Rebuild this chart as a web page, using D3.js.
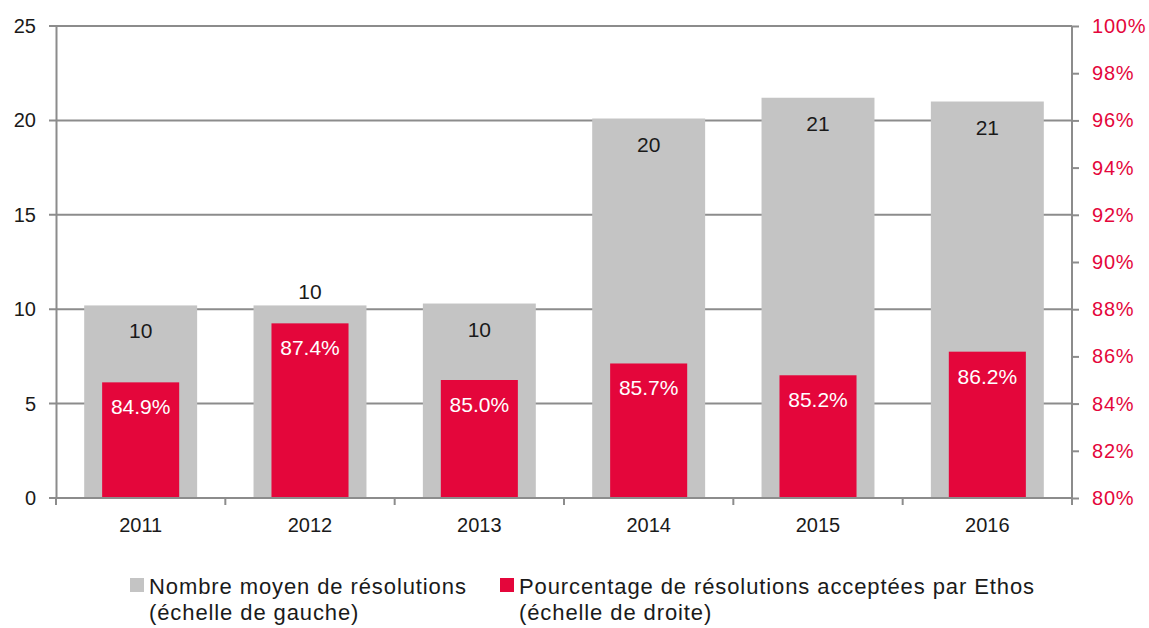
<!DOCTYPE html>
<html>
<head>
<meta charset="utf-8">
<script src="https://cdn.jsdelivr.net/npm/d3@7"></script>
<style>
  body { margin: 0; background: #fff; }
  svg text { font-family: "Liberation Sans", Arial, sans-serif; }
</style>
</head>
<body>
<div id="chart-area"></div>
<script>
// data
var years = ['2011', '2012', '2013', '2014', '2015', '2016'];
var avgResolutions = [10.2, 10.2, 10.3, 20.1, 21.2, 21.0];
var pctAccepted = [84.9, 87.4, 85.0, 85.7, 85.2, 86.2];
var leftTicks = [0, 5, 10, 15, 20, 25];
var rightTicks = [80, 82, 84, 86, 88, 90, 92, 94, 96, 98, 100];
var legendLabels = [
    ['Nombre moyen de résolutions', '(échelle de gauche)'],
    ['Pourcentage de résolutions acceptées par Ethos', '(échelle de droite)']
];

var margin = { left: 56, right: 77, top: 26, bottom: 130 };
var width = 1149 - margin.left - margin.right;
var height = 628 - margin.top - margin.bottom;

var grey = '#c4c4c4';
var red = '#e4063b';
var axisGrey = '#8c8c8c';
var textCol = '#1a1a1a';

var data = years.map((y, i) => ({ year: y, avg: avgResolutions[i], pct: pctAccepted[i] }));

var svg = d3.select('#chart-area')
    .append('svg')
    .attr('width', 1149)
    .attr('height', 628);

var g = svg.append('g')
    .attr('transform', 'translate(' + margin.left + ', ' + margin.top + ')');

var x = d3.scaleBand()
    .domain(years)
    .range([0, width]);

var yLeft = d3.scaleLinear().domain([0, 25]).range([height, 0]);
var yRight = d3.scaleLinear().domain([80, 100]).range([height, 0]);

// gridlines
g.selectAll('.grid')
    .data(leftTicks)
    .enter().append('line')
    .attr('x1', -7)
    .attr('x2', width)
    .attr('y1', d => yLeft(d))
    .attr('y2', d => yLeft(d))
    .attr('stroke', axisGrey)
    .attr('stroke-width', 2);

// grey bars
var greyW = x.bandwidth() * 0.667;
g.selectAll('.bar-avg')
    .data(data)
    .enter().append('rect')
    .attr('x', d => x(d.year) + (x.bandwidth() - greyW) / 2)
    .attr('y', d => yLeft(d.avg))
    .attr('width', greyW)
    .attr('height', d => height - yLeft(d.avg))
    .attr('fill', grey);

// red bars
var redW = x.bandwidth() * 0.455;
g.selectAll('.bar-pct')
    .data(data)
    .enter().append('rect')
    .attr('x', d => x(d.year) + (x.bandwidth() - redW) / 2)
    .attr('y', d => yRight(d.pct))
    .attr('width', redW)
    .attr('height', d => height - yRight(d.pct))
    .attr('fill', red);

// grey labels: inside the bar, or above it if the red bar is in the way
g.selectAll('.lbl-avg')
    .data(data)
    .enter().append('text')
    .attr('x', d => x(d.year) + x.bandwidth() / 2)
    .attr('y', d => {
        var top = yLeft(d.avg);
        return (yRight(d.pct) - top < 35) ? top - 6 : top + 33;
    })
    .attr('text-anchor', 'middle')
    .attr('font-size', '21px')
    .attr('fill', textCol)
    .text(d => Math.round(d.avg));

g.selectAll('.lbl-pct')
    .data(data)
    .enter().append('text')
    .attr('x', d => x(d.year) + x.bandwidth() / 2)
    .attr('y', d => yRight(d.pct) + 32)
    .attr('text-anchor', 'middle')
    .attr('font-size', '21px')
    .attr('fill', '#fff')
    .text(d => d.pct.toFixed(1) + '%');

// left axis
var leftAxis = g.append('g')
    .call(d3.axisLeft(yLeft).tickValues(leftTicks).tickSize(0).tickPadding(20));
leftAxis.select('.domain').attr('stroke', axisGrey).attr('stroke-width', 2);
leftAxis.selectAll('text').attr('font-size', '20px').attr('fill', textCol);

// right axis
var rightAxis = g.append('g')
    .attr('transform', `translate(${width}, 0)`)
    .call(d3.axisRight(yRight).tickValues(rightTicks).tickSize(7).tickPadding(13)
        .tickFormat(d => d + '%'));
rightAxis.select('.domain').attr('stroke', axisGrey).attr('stroke-width', 2).attr('d', `M0,0V${height}`);
rightAxis.selectAll('line').attr('stroke', axisGrey).attr('stroke-width', 2);
rightAxis.selectAll('text').attr('font-size', '20px').attr('letter-spacing', '0.8px').attr('fill', red);

// bottom axis: ticks between categories
var bottom = g.append('g').attr('transform', `translate(0, ${height})`);
bottom.append('line')
    .attr('x1', 0).attr('x2', width)
    .attr('stroke', axisGrey).attr('stroke-width', 2);
var bounds = years.map(y => x(y)).concat([width]);
bottom.selectAll('.xtick')
    .data(bounds)
    .enter().append('line')
    .attr('x1', d => d).attr('x2', d => d)
    .attr('y1', 0).attr('y2', 7)
    .attr('stroke', axisGrey).attr('stroke-width', 2);
bottom.selectAll('.xlabel')
    .data(years)
    .enter().append('text')
    .attr('x', d => x(d) + x.bandwidth() / 2)
    .attr('y', 34)
    .attr('text-anchor', 'middle')
    .attr('font-size', '20px')
    .attr('fill', textCol)
    .text(d => d);

// legend
var legendX = [130, 500];
var legendColors = [grey, red];
var legend = svg.selectAll('.legend')
    .data(legendLabels)
    .enter().append('g')
    .attr('transform', (d, i) => `translate(${legendX[i]}, 578)`);
legend.append('rect')
    .attr('x', 0).attr('y', 0)
    .attr('width', 14).attr('height', 14)
    .attr('fill', (d, i) => legendColors[i]);
legend.append('text')
    .attr('x', 19).attr('y', 16)
    .attr('font-size', '22px')
    .attr('letter-spacing', '0.9px')
    .attr('fill', textCol)
    .text(d => d[0]);
legend.append('text')
    .attr('x', 19).attr('y', 42)
    .attr('font-size', '22px')
    .attr('letter-spacing', '0.9px')
    .attr('fill', textCol)
    .text(d => d[1]);
</script>
</body>
</html>
